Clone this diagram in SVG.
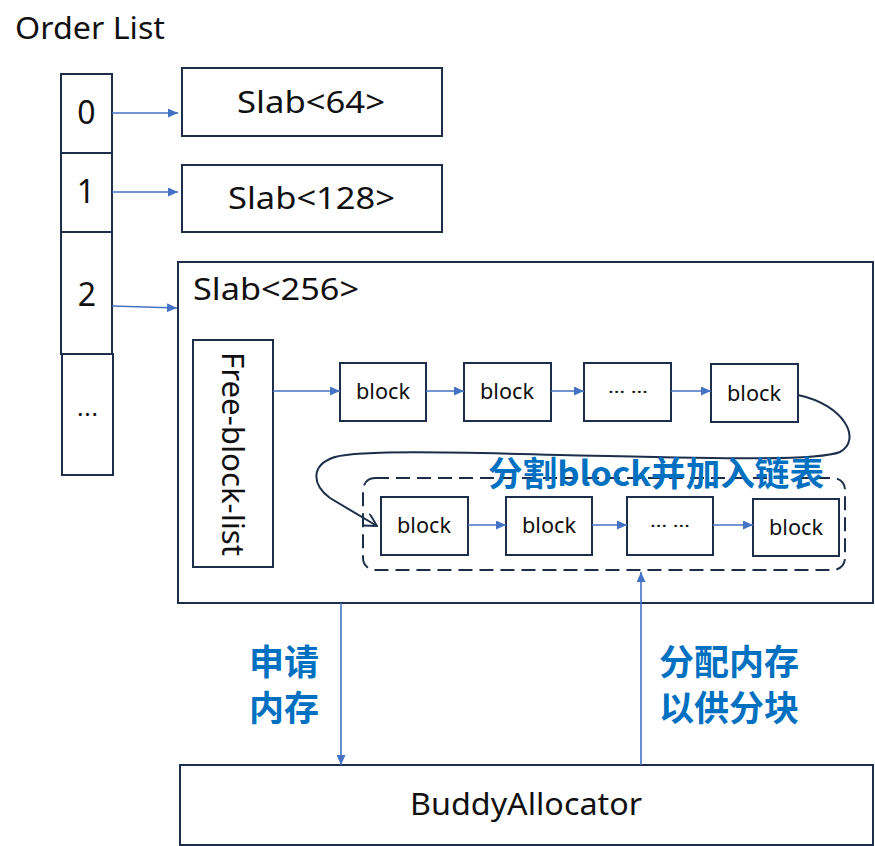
<svg xmlns="http://www.w3.org/2000/svg" width="875" height="846" viewBox="0 0 875 846">
<defs>
<style>
.box{fill:#fff;stroke:#1c2e4a;stroke-width:2}
.t{font-family:"Noto Sans","Noto Sans CJK SC",sans-serif;fill:#111}
.lbl{font-family:"Noto Sans CJK SC","Noto Sans",sans-serif;fill:#0070c0;font-weight:bold}
.arr{stroke:#4472c4;stroke-width:1.6;fill:none;marker-end:url(#ah)}
</style>
<marker id="ah" viewBox="0 0 10 10" refX="10" refY="5" markerWidth="10" markerHeight="9" markerUnits="userSpaceOnUse" orient="auto" preserveAspectRatio="none">
<path d="M0,0 L10,5 L0,10 z" fill="#4472c4"/>
</marker>
<marker id="oh" viewBox="0 0 12 12" refX="11" refY="6" markerWidth="14" markerHeight="14" markerUnits="userSpaceOnUse" orient="auto">
<path d="M0,0 L11,6 L0,12" fill="none" stroke="#1c2e4a" stroke-width="1.6"/>
</marker>
</defs>
<rect width="875" height="846" fill="#fff"/>
<text class="t" x="15" y="39" font-size="31" textLength="150" lengthAdjust="spacingAndGlyphs">Order List</text>

<g id="order0"><rect class="box" x="61" y="74" width="51" height="79"/><text class="t" x="86.5" y="124" font-size="32" text-anchor="middle">0</text></g>
<g id="order1"><rect class="box" x="61" y="153" width="51" height="79"/><text class="t" x="86" y="203" font-size="32" text-anchor="middle">1</text></g>
<g id="order2"><rect class="box" x="61" y="232" width="51" height="122"/><text class="t" x="87" y="306" font-size="32" text-anchor="middle">2</text></g>
<g id="order3"><rect class="box" x="62" y="354" width="51" height="121"/><text class="t" x="77" y="416" font-size="24" textLength="21" lengthAdjust="spacing">...</text></g>

<g id="slab64"><rect class="box" x="182" y="68" width="260" height="68"/><text class="t" x="237" y="113" font-size="31" textLength="148" lengthAdjust="spacingAndGlyphs">Slab&lt;64&gt;</text></g>
<g id="slab128"><rect class="box" x="182" y="165" width="260" height="67"/><text class="t" x="228" y="209" font-size="31" textLength="167" lengthAdjust="spacingAndGlyphs">Slab&lt;128&gt;</text></g>
<g id="slab256"><rect class="box" x="178" y="262" width="695" height="341"/><text class="t" x="193" y="300" font-size="31" textLength="166" lengthAdjust="spacingAndGlyphs">Slab&lt;256&gt;</text></g>

<g id="freelist"><rect class="box" x="193" y="340" width="80" height="227"/><text class="t" font-size="30" textLength="204" lengthAdjust="spacingAndGlyphs" transform="translate(222,352) rotate(90)">Free-block-list</text></g>

<g id="dashed"><rect x="363" y="478" width="482" height="92" rx="12" fill="none" stroke="#1c2e4a" stroke-width="2" stroke-dasharray="14,7"/></g>

<g id="b1"><rect class="box" x="340" y="363" width="86" height="58"/><text class="t" x="356" y="399" font-size="22" textLength="54" lengthAdjust="spacingAndGlyphs">block</text></g>
<g id="b2"><rect class="box" x="464" y="363" width="87" height="58"/><text class="t" x="480" y="399" font-size="22" textLength="54" lengthAdjust="spacingAndGlyphs">block</text></g>
<g id="b3"><rect class="box" x="584" y="363" width="87" height="58"/><text class="t" x="608" y="393" font-size="16" textLength="40" lengthAdjust="spacingAndGlyphs">… …</text></g>
<g id="b4"><rect class="box" x="711" y="364" width="87" height="58"/><text class="t" x="727" y="401" font-size="22" textLength="54" lengthAdjust="spacingAndGlyphs">block</text></g>

<g id="c1"><rect class="box" x="381" y="497" width="87" height="58"/><text class="t" x="397" y="533" font-size="22" textLength="54" lengthAdjust="spacingAndGlyphs">block</text></g>
<g id="c2"><rect class="box" x="506" y="497" width="86" height="58"/><text class="t" x="522" y="533" font-size="22" textLength="54" lengthAdjust="spacingAndGlyphs">block</text></g>
<g id="c3"><rect class="box" x="627" y="497" width="86" height="58"/><text class="t" x="650" y="527" font-size="16" textLength="40" lengthAdjust="spacingAndGlyphs">… …</text></g>
<g id="c4"><rect class="box" x="753" y="499" width="86" height="57"/><text class="t" x="769" y="535" font-size="22" textLength="54" lengthAdjust="spacingAndGlyphs">block</text></g>

<g id="buddy"><rect class="box" x="180" y="765" width="693" height="80"/><text class="t" x="410" y="815" font-size="30" textLength="232" lengthAdjust="spacingAndGlyphs">BuddyAllocator</text></g>

<g id="connectors">
<line class="arr" x1="112" y1="113" x2="178" y2="113"/>
<line class="arr" x1="112" y1="192" x2="178" y2="192"/>
<line class="arr" x1="112" y1="306" x2="177" y2="308"/>
<line class="arr" x1="273" y1="391" x2="340" y2="391"/>
<line class="arr" x1="426" y1="391" x2="464" y2="391"/>
<line class="arr" x1="551" y1="391" x2="584" y2="391"/>
<line class="arr" x1="671" y1="391" x2="711" y2="391"/>
<line class="arr" x1="468" y1="525" x2="506" y2="525"/>
<line class="arr" x1="592" y1="525" x2="627" y2="525"/>
<line class="arr" x1="713" y1="525" x2="753" y2="525"/>
<line class="arr" x1="341" y1="603" x2="341" y2="765"/>
<line class="arr" x1="641" y1="765" x2="641" y2="572"/>
<path d="M798,395 C845,405 862,440 840,452 C815,462 700,458 560,455 C450,452 360,450 335,457 C310,465 312,485 330,498 L377,526" fill="none" stroke="#1c2e4a" stroke-width="2" marker-end="url(#oh)"/>
</g>

<text class="lbl" x="488" y="486" font-size="34" textLength="336" lengthAdjust="spacingAndGlyphs">分割block并加入链表</text>
<text class="lbl" x="249" y="675" font-size="35">申请</text>
<text class="lbl" x="249" y="721" font-size="35">内存</text>
<text class="lbl" x="659" y="675" font-size="35">分配内存</text>
<text class="lbl" x="659" y="721" font-size="35">以供分块</text>
</svg>
